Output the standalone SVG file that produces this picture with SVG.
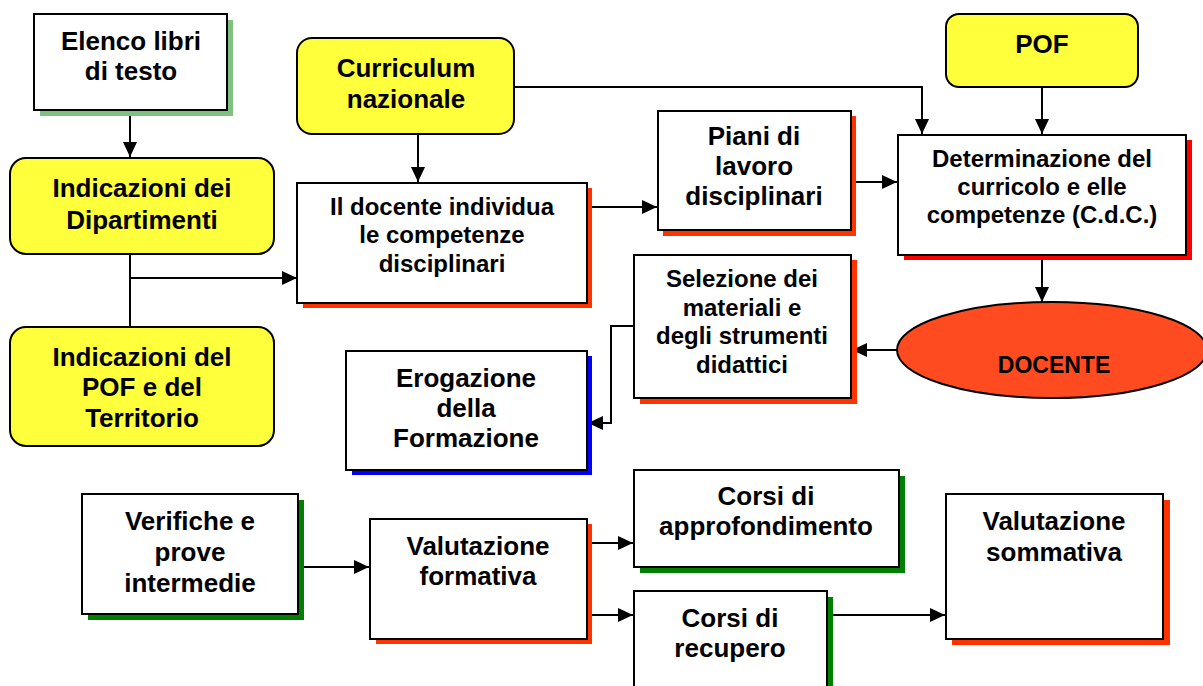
<svg xmlns="http://www.w3.org/2000/svg" width="1203" height="686" viewBox="0 0 1203 686">
<defs>
<style>
.box{fill:#ffffff;stroke:#000;stroke-width:2}
.yel{fill:#ffff3c;stroke:#000;stroke-width:2}
.t{font-family:"Liberation Sans",Arial,sans-serif;font-weight:bold;font-size:26px;fill:#000;text-anchor:middle}
.s{font-size:24px}
.c{fill:none;stroke:#000;stroke-width:2}
.sr{fill:#ff3300}
.sg{fill:#008000}
</style>
<marker id="ah" markerWidth="15" markerHeight="14" refX="15" refY="7" orient="auto" markerUnits="userSpaceOnUse">
<path d="M0,0 L15,7 L0,14 z" fill="#000"/>
</marker>
</defs>
<rect width="1203" height="686" fill="#fff"/>

<g id="connectors">
<path class="c" d="M130,110 V157" marker-end="url(#ah)"/>
<path class="c" d="M130,254 V327"/>
<path class="c" d="M130,278 H297" marker-end="url(#ah)"/>
<path class="c" d="M418,134 V182" marker-end="url(#ah)"/>
<path class="c" d="M514,87 H922 V134" marker-end="url(#ah)"/>
<path class="c" d="M587,207 H657" marker-end="url(#ah)"/>
<path class="c" d="M851,182 H897" marker-end="url(#ah)"/>
<path class="c" d="M1042,87 V134" marker-end="url(#ah)"/>
<path class="c" d="M1042,255 V302" marker-end="url(#ah)"/>
<path class="c" d="M897,350 H852" marker-end="url(#ah)"/>
<path class="c" d="M634,326 H611 V423 H588" marker-end="url(#ah)"/>
<path class="c" d="M298,567 H369" marker-end="url(#ah)"/>
<path class="c" d="M587,543 H633" marker-end="url(#ah)"/>
<path class="c" d="M587,615 H633" marker-end="url(#ah)"/>
<path class="c" d="M827,615 H945" marker-end="url(#ah)"/>
</g>

<g id="elenco">
<rect x="40" y="20" width="193" height="96" fill="#80c080"/>
<rect class="box" x="34" y="14" width="193" height="96"/>
<text class="t" x="131" y="50">Elenco libri</text>
<text class="t" x="131" y="80">di testo</text>
</g>

<g id="dipartimenti">
<rect class="yel" x="10" y="158" width="264" height="96" rx="16"/>
<text class="t" x="142" y="197">Indicazioni dei</text>
<text class="t" x="142" y="229">Dipartimenti</text>
</g>

<g id="pof-territorio">
<rect class="yel" x="10" y="327" width="264" height="119" rx="16"/>
<text class="t" x="142" y="366">Indicazioni del</text>
<text class="t" x="142" y="396">POF e del</text>
<text class="t" x="142" y="427">Territorio</text>
</g>

<g id="curriculum">
<rect class="yel" x="297" y="38" width="217" height="96" rx="15"/>
<text class="t" x="406" y="77">Curriculum</text>
<text class="t" x="406" y="108">nazionale</text>
</g>

<g id="docente-individua">
<rect class="sr" x="303" y="188" width="289" height="120"/>
<rect class="box" x="297" y="183" width="290" height="120"/>
<text class="t s" x="442" y="215">Il docente individua</text>
<text class="t s" x="442" y="243">le competenze</text>
<text class="t s" x="442" y="272">disciplinari</text>
</g>

<g id="piani">
<rect class="sr" x="663" y="116" width="193" height="120"/>
<rect class="box" x="658" y="111" width="193" height="119"/>
<text class="t" x="754" y="145">Piani di</text>
<text class="t" x="754" y="175">lavoro</text>
<text class="t" x="754" y="205">disciplinari</text>
</g>

<g id="pof">
<rect class="yel" x="946" y="14" width="192" height="73" rx="13"/>
<text class="t" x="1042" y="53">POF</text>
</g>

<g id="determinazione">
<rect x="904" y="140" width="288" height="120" fill="#ff0000"/>
<rect class="box" x="898" y="135" width="288" height="120"/>
<text class="t s" x="1042" y="167">Determinazione del</text>
<text class="t s" x="1042" y="195">curricolo e elle</text>
<text class="t s" x="1042" y="223">competenze (C.d.C.)</text>
</g>

<g id="docente">
<ellipse cx="1052" cy="350" rx="155" ry="48" fill="#ff4b1f" stroke="#000" stroke-width="2"/>
<text class="t" x="1054" y="373" style="font-size:23px">DOCENTE</text>
</g>

<g id="selezione">
<rect class="sr" x="640" y="260" width="217" height="144"/>
<rect class="box" x="634" y="255" width="217" height="143"/>
<text class="t s" x="742" y="287">Selezione dei</text>
<text class="t s" x="742" y="316">materiali e</text>
<text class="t s" x="742" y="344">degli strumenti</text>
<text class="t s" x="742" y="373">didattici</text>
</g>

<g id="erogazione">
<rect x="352" y="356" width="240" height="119" fill="#0000ff"/>
<rect class="box" x="346" y="351" width="241" height="119"/>
<text class="t" x="466" y="387">Erogazione</text>
<text class="t" x="466" y="417">della</text>
<text class="t" x="466" y="447">Formazione</text>
</g>

<g id="verifiche">
<rect class="sg" x="88" y="500" width="216" height="120"/>
<rect class="box" x="82" y="494" width="216" height="120"/>
<text class="t" x="190" y="530">Verifiche e</text>
<text class="t" x="190" y="561">prove</text>
<text class="t" x="190" y="592">intermedie</text>
</g>

<g id="formativa">
<rect class="sr" x="376" y="524" width="216" height="120"/>
<rect class="box" x="370" y="519" width="217" height="120"/>
<text class="t" x="478" y="555">Valutazione</text>
<text class="t" x="478" y="585">formativa</text>
</g>

<g id="approfondimento">
<rect class="sg" x="640" y="476" width="265" height="97"/>
<rect class="box" x="634" y="470" width="265" height="97"/>
<text class="t" x="766" y="505">Corsi di</text>
<text class="t" x="766" y="535">approfondimento</text>
</g>

<g id="recupero">
<rect class="sg" x="640" y="597" width="193" height="110"/>
<rect class="box" x="634" y="591" width="193" height="110"/>
<text class="t" x="730" y="627">Corsi di</text>
<text class="t" x="730" y="657">recupero</text>
</g>

<g id="sommativa">
<rect class="sr" x="952" y="500" width="218" height="145"/>
<rect class="box" x="946" y="494" width="217" height="145"/>
<text class="t" x="1054" y="530">Valutazione</text>
<text class="t" x="1054" y="561">sommativa</text>
</g>
</svg>
